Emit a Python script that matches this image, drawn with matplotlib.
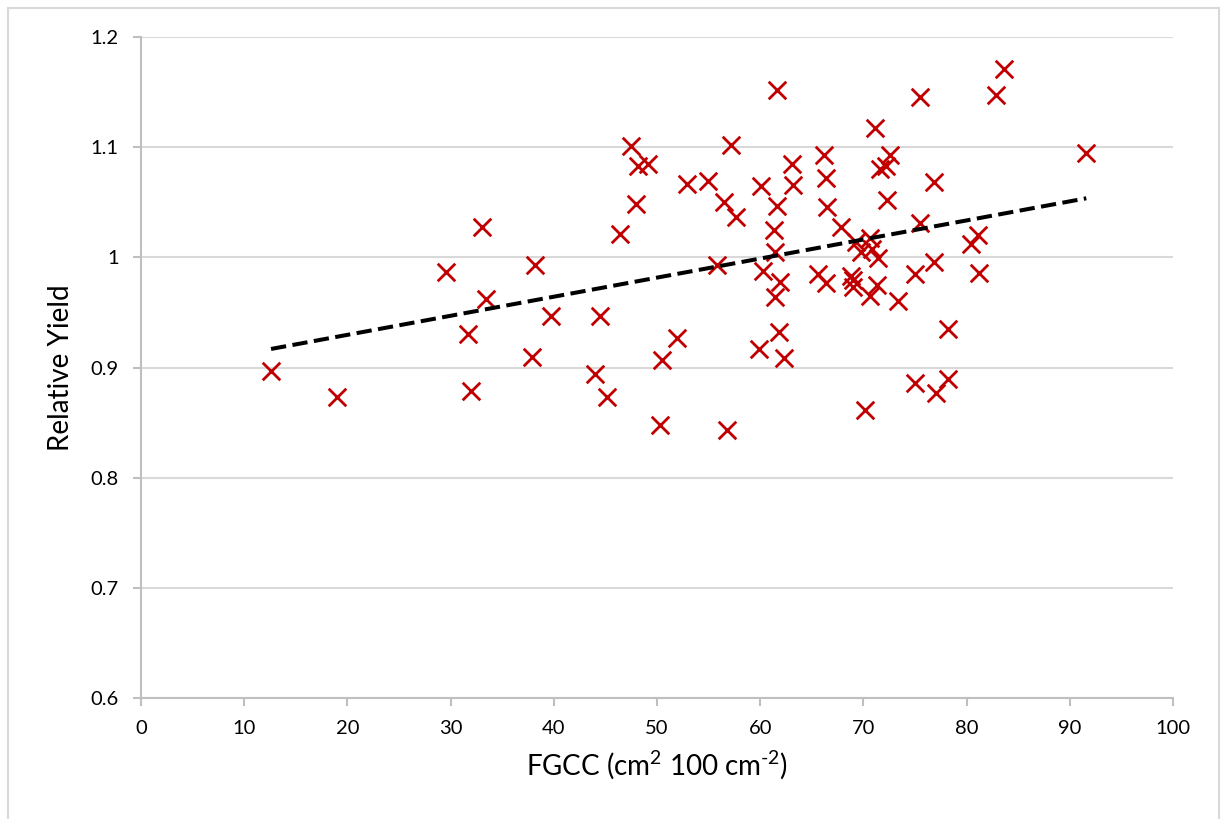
import numpy as np
import matplotlib
matplotlib.use("Agg")
import matplotlib.pyplot as plt
from matplotlib.patches import Rectangle

plt.rcParams.update({
    "font.family": ["Lato", "DejaVu Sans"],
    "mathtext.fontset": "custom",
    "mathtext.rm": "Lato",
    "mathtext.it": "Lato:italic",
    "mathtext.bf": "Lato:bold",
})

# FGCC (cm2 100 cm-2) vs relative yield
fgcc = [12.6, 19.0, 29.6, 31.7, 32.0, 33.0, 33.4, 37.9, 38.2, 39.7,
        44.0, 44.5, 45.2, 46.4, 47.5, 48.0, 48.2, 49.1, 50.3, 50.5,
        51.9, 52.9, 54.9, 55.8, 56.5, 56.8, 57.2, 57.7, 59.9, 60.1,
        60.3, 61.3, 61.4, 61.4, 61.6, 61.6, 61.8, 61.9, 62.3, 63.1,
        63.2, 65.6, 66.2, 66.4, 66.4, 66.5, 67.8, 68.8, 69.0, 69.0,
        69.3, 69.8, 70.2, 70.6, 70.6, 70.8, 71.1, 71.3, 71.4, 71.6,
        72.2, 72.3, 72.6, 73.4, 75.0, 75.0, 75.5, 75.5, 76.8, 76.8,
        77.0, 78.2, 78.2, 80.4, 81.1, 81.2, 82.85, 83.6, 91.6]
rel_yield = [0.897, 0.873, 0.987, 0.930, 0.879, 1.028, 0.962, 0.910, 0.993, 0.947,
             0.894, 0.947, 0.873, 1.021, 1.101, 1.048, 1.083, 1.085, 0.848, 0.907,
             0.927, 1.067, 1.069, 0.993, 1.050, 0.843, 1.102, 1.037, 0.917, 1.065,
             0.988, 1.025, 1.005, 0.964, 1.152, 1.047, 0.932, 0.978, 0.909, 1.085,
             1.066, 0.985, 1.093, 1.072, 0.977, 1.046, 1.028, 0.983, 0.979, 0.973,
             1.014, 1.005, 0.861, 1.018, 0.965, 1.008, 1.117, 0.975, 0.999, 1.080,
             1.083, 1.052, 1.093, 0.960, 0.985, 0.886, 1.146, 1.031, 0.996, 1.068,
             0.877, 0.935, 0.890, 1.012, 1.020, 0.986, 1.147, 1.171, 1.095]

x_ticks = np.arange(0, 101, 10)
y_ticks = [0.6, 0.7, 0.8, 0.9, 1.0, 1.1, 1.2]
y_tick_labels = ["0.6", "0.7", "0.8", "0.9", "1", "1.1", "1.2"]

fig = plt.figure(figsize=(12.23, 8.19), dpi=100)
ax = fig.add_axes([0.1153, 0.1477, 0.8438, 0.8071])

# outer chart frame
fig.patches.append(Rectangle((8 / 1223, -0.01), 1211 / 1223, 1 - 8 / 819 + 0.01,
                             transform=fig.transFigure, fill=False,
                             edgecolor="#d9d9d9", linewidth=1.5))

ax.scatter(fgcc, rel_yield, marker="x", s=160, color="#c00000",
           linewidths=2.0, zorder=3)

# linear trend line (Excel style)
slope, intercept = np.polyfit(fgcc, rel_yield, 1)
xl = np.array([min(fgcc), max(fgcc)])
ax.plot(xl, slope * xl + intercept, color="black", linewidth=2.9,
        linestyle=(0, (3.8, 1.6)), zorder=4)

ax.set_xlim(0, 100)
ax.set_ylim(0.6, 1.2)
ax.set_xticks(x_ticks)
ax.set_yticks(y_ticks)
ax.set_yticklabels(y_tick_labels)

ax.grid(axis="y", color="#d9d9d9", linewidth=1.5)
ax.set_axisbelow(True)
for s in ["top", "right"]:
    ax.spines[s].set_visible(False)
for s in ["left", "bottom"]:
    ax.spines[s].set_color("#bfbfbf")
    ax.spines[s].set_linewidth(1.5)

ax.tick_params(axis="both", colors="#bfbfbf", labelcolor="black",
               labelsize=14.5, width=1.5, length=6)
ax.tick_params(axis="x", pad=10)
ax.tick_params(axis="y", pad=10)

ax.set_xlabel("FGCC (cm$^{2}$ 100 cm$^{\u2010 2}$)".replace("\u2010 ", "\u2010"),
              fontsize=20, labelpad=8)
ax.set_ylabel("Relative Yield", fontsize=20, labelpad=12)

fig.savefig("out.png", dpi=100)
